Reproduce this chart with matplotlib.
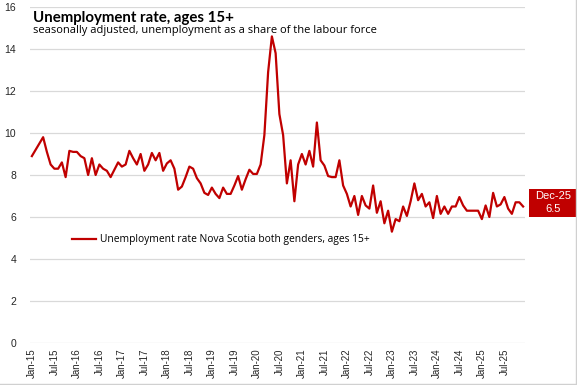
import pandas as pd
import matplotlib
matplotlib.use('Agg')
import matplotlib.pyplot as plt
from matplotlib.patches import Rectangle
from matplotlib.lines import Line2D

# monthly unemployment rate, Nova Scotia, Jan-15 .. Dec-25
rate_2015 = [8.9, 9.2, 9.5, 9.8, 9.1, 8.5, 8.3, 8.3, 8.6, 7.9, 9.15, 9.1]
rate_2016 = [9.1, 8.9, 8.8, 8.0, 8.8, 8.0, 8.5, 8.3, 8.2, 7.9, 8.25, 8.6]
rate_2017 = [8.4, 8.5, 9.15, 8.8, 8.5, 9.0, 8.2, 8.5, 9.05, 8.7, 9.05, 8.2]
rate_2018 = [8.55, 8.7, 8.3, 7.3, 7.45, 7.9, 8.4, 8.3, 7.85, 7.6, 7.15, 7.05]
rate_2019 = [7.4, 7.1, 6.9, 7.4, 7.1, 7.1, 7.5, 7.95, 7.3, 7.8, 8.25, 8.05]
rate_2020 = [8.05, 8.5, 9.9, 12.9, 14.6, 13.8, 10.9, 9.9, 7.6, 8.7, 6.75, 8.5]
rate_2021 = [9.0, 8.5, 9.15, 8.4, 10.5, 8.7, 8.45, 7.95, 7.9, 7.9, 8.7, 7.5]
rate_2022 = [7.1, 6.5, 7.0, 6.1, 7.0, 6.55, 6.4, 7.5, 6.2, 6.75, 5.7, 6.3]
rate_2023 = [5.3, 5.9, 5.8, 6.5, 6.05, 6.75, 7.6, 6.8, 7.1, 6.5, 6.7, 5.95]
rate_2024 = [7.0, 6.15, 6.5, 6.15, 6.5, 6.5, 6.95, 6.55, 6.3, 6.3, 6.3, 6.3]
rate_2025 = [5.9, 6.55, 6.0, 7.15, 6.5, 6.6, 6.95, 6.4, 6.15, 6.7, 6.7, 6.5]

rate = (rate_2015 + rate_2016 + rate_2017 + rate_2018 + rate_2019 + rate_2020
        + rate_2021 + rate_2022 + rate_2023 + rate_2024 + rate_2025)
months = pd.date_range('2015-01-01', periods=len(rate), freq='MS').strftime('%b-%y').tolist()
series_name = 'Unemployment rate Nova Scotia both genders, ages 15+'

red = '#C00000'
grid_col = '#D9D9D9'

fig = plt.figure(figsize=(5.77, 3.85), dpi=100)
ax = fig.add_axes([30/577, 1-343/385, 495/577, 336/385])

x = list(range(len(rate)))
ax.plot(x, rate, color=red, lw=1.6, solid_joinstyle='round', label=series_name)

ax.set_xlim(-0.5, len(rate) - 0.5)
ax.set_ylim(0, 16)
ax.set_yticks(range(0, 17, 2))
ax.yaxis.grid(True, color=grid_col, lw=0.9)
ax.set_axisbelow(True)
for s in ax.spines.values():
    s.set_visible(False)
ax.tick_params(axis='both', length=0, labelsize=7.5, labelcolor='#262626', pad=4)
ax.set_yticklabels([str(v) for v in range(0, 17, 2)], fontfamily='Liberation Sans')
ax.yaxis.set_tick_params(pad=10)

ax.set_xticks(x[::6])
ax.set_xticklabels(months[::6], rotation=90, fontfamily='Liberation Sans', fontsize=7)

ax.legend(loc='center left', bbox_to_anchor=(0.085, 0.307), frameon=False,
          handlelength=2.3, handletextpad=0.4, borderpad=0, borderaxespad=0,
          prop={'family': 'Open Sans', 'size': 7.4})

# label box for the latest value
last = rate[-1]
tr = ax.get_yaxis_transform()
ax.add_patch(Rectangle((1.008, last - 0.5), 0.1, 1.33, transform=tr,
                       facecolor=red, edgecolor='none', clip_on=False))
ax.text(1.056, last + 0.5, months[-1], transform=tr, color='white', ha='center', va='center',
        fontsize=8, fontfamily='Liberation Sans')
ax.text(1.056, last - 0.1, f'{last}', transform=tr, color='white', ha='center', va='center',
        fontsize=8, fontfamily='Liberation Sans')

fig.text(33/577, 1-18/385, 'Unemployment rate, ages 15+', fontsize=10.8, fontweight='bold',
         fontfamily='Lato', va='center', ha='left')
fig.text(33/577, 1-31/385, 'seasonally adjusted, unemployment as a share of the labour force',
         fontsize=8, fontfamily='Open Sans', va='center', ha='left')

# chart border
fig.add_artist(Line2D([0.9975, 0.9975], [0, 1], transform=fig.transFigure, color='#D0D0D0', lw=1))
fig.add_artist(Line2D([0, 1], [0.003, 0.003], transform=fig.transFigure, color='#D0D0D0', lw=1))

fig.savefig('out.png', dpi=100)
